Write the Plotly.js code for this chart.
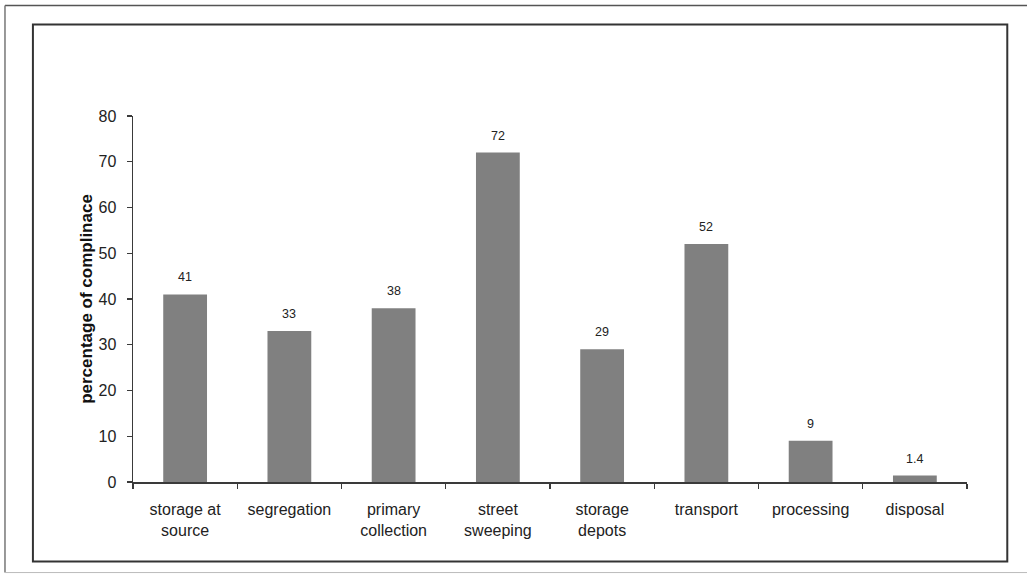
<!DOCTYPE html>
<html>
<head>
<meta charset="utf-8">
<script src="https://cdn.plot.ly/plotly-3.0.1.min.js"></script>
<style>
  html, body { margin: 0; padding: 0; background: #ffffff; }
  #chart { width: 1027px; height: 574px; }
</style>
</head>
<body>
<div id="chart"></div>
<script>
const categories = [
  "storage at<br>source",
  "segregation",
  "primary<br>collection",
  "street<br>sweeping",
  "storage<br>depots",
  "transport",
  "processing",
  "disposal"
];
const values = [41, 33, 38, 72, 29, 52, 9, 1.4];
const valueLabels = ["41", "33", "38", "72", "29", "52", "9", "1.4"];
const yTickValues = [0, 10, 20, 30, 40, 50, 60, 70, 80];
const yAxisTitle = "percentage of complinace";

const FONT = "Liberation Sans, Arial, Helvetica, sans-serif";
const AXIS_COLOR = "#3a3a3a";

const trace = {
  type: "bar",
  x: categories,
  y: values,
  marker: { color: "#808080", line: { width: 0 } },
  hoverinfo: "skip"
};

const annotations = categories.map((c, i) => ({
  x: c, y: values[i], xref: "x", yref: "y",
  text: valueLabels[i], showarrow: false,
  yanchor: "bottom", yshift: 8,
  font: { family: FONT, size: 12.5, color: "#222222" }
}));

const layout = {
  width: 1027, height: 574,
  margin: { l: 133, r: 60, t: 116, b: 92, pad: 0 },
  paper_bgcolor: "#ffffff", plot_bgcolor: "#ffffff",
  showlegend: false,
  bargap: 0.58,
  font: { family: FONT, color: "#222222" },
  xaxis: {
    type: "category",
    range: [-0.5, 7.5],
    showline: true, linecolor: AXIS_COLOR, linewidth: 1.5,
    ticks: "outside", tickson: "boundaries", ticklen: 5, tickwidth: 1.2, tickcolor: AXIS_COLOR,
    showgrid: false, zeroline: false,
    tickfont: { family: FONT, size: 16, color: "#222222" },
    ticklabelstandoff: 12,
    tickangle: 0
  },
  yaxis: {
    range: [0, 80],
    tickvals: yTickValues,
    showline: true, linecolor: AXIS_COLOR, linewidth: 1.5,
    ticks: "outside", ticklen: 5, tickwidth: 1.2, tickcolor: AXIS_COLOR,
    showgrid: false, zeroline: false,
    tickfont: { family: FONT, size: 16, color: "#222222" },
    ticklabelstandoff: 7,
    title: { text: yAxisTitle, font: { family: FONT, size: 17, color: "#111111", weight: "bold" }, standoff: 1 }
  },
  annotations: annotations,
  shapes: [
    // outer frame
    { type: "line", xref: "paper", yref: "paper", x0: -0.1535, x1: 1.1, y0: 1.302, y1: 1.302,
      line: { color: "#555555", width: 1.5 } },
    { type: "line", xref: "paper", yref: "paper", x0: -0.1535, x1: -0.1535, y0: 1.302, y1: -0.2474,
      line: { color: "#777777", width: 1.5 } },
    { type: "line", xref: "paper", yref: "paper", x0: -0.1535, x1: 1.1, y0: -0.2474, y1: -0.2474,
      line: { color: "#bbbbbb", width: 1 } },
    // inner box
    { type: "rect", xref: "paper", yref: "paper", x0: -0.12, x1: 1.0483, y0: -0.2174, y1: 1.2502,
      line: { color: "#333333", width: 2 }, fillcolor: "rgba(0,0,0,0)" }
  ]
};

Plotly.newPlot("chart", [trace], layout, { displayModeBar: false, staticPlot: true });
</script>
</body>
</html>
